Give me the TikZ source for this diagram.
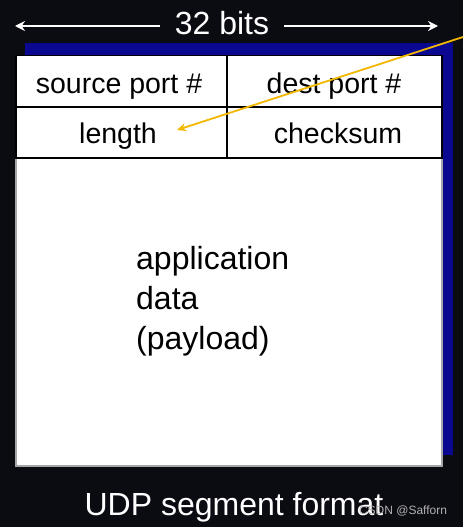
\documentclass[tikz,border=0pt]{standalone}
\usepackage{fontspec}
\setmainfont{Liberation Sans}
\usetikzlibrary{arrows.meta}
\definecolor{bgdark}{HTML}{0B0B12}
\definecolor{shadowblue}{HTML}{0A0890}
\definecolor{arrowyellow}{HTML}{F2B800}
\tikzset{
  cell/.style={draw=black, line width=1.8pt, fill=white, inner sep=0pt, outer sep=0pt,
    minimum width=211pt, minimum height=51pt},
  celltext/.style={anchor=base, inner sep=0pt, font=\fontsize{28.5}{34}\selectfont, text=black},
  whitetxt/.style={text=white, inner sep=0pt, anchor=base, font=\fontsize{32}{38}\selectfont}
}
\begin{document}
\begin{tikzpicture}[x=1pt,y=-1pt]
\useasboundingbox (0,0) rectangle (463,527);
\fill[bgdark] (0,0) rectangle (463,527);
% shadow
\fill[shadowblue] (25,43) rectangle (453,455);
% cells
\node[cell, minimum width=426pt, minimum height=308pt, draw=gray!70, line width=1.2pt] (payload) at (229,312) {};
\node[cell, minimum width=211pt] (srcbox) at (121.5,81) {};
\node[cell, minimum width=215pt] (dstbox) at (334.5,81) {};
\node[cell, minimum width=211pt] (lenbox) at (121.5,132.5) {};
\node[cell, minimum width=215pt] (chkbox) at (334.5,132.5) {};
\draw[black, line width=1.8pt] (payload.north west) -- (payload.north east);
\node[celltext] (src) at (119,93) {source port \#};
\node[celltext] (dst) at (334,93) {dest port \#};
\node[celltext] (len) at (118,143) {length};
\node[celltext] (chk) at (338,143) {checksum};
\node[anchor=west, align=left, inner sep=0pt, font=\fontsize{32}{40}\selectfont, text=black] (appdata) at (136,301) {application\\data\\(payload)};
% 32 bits
\node[whitetxt] (bits) at (222,35) {32 bits};
\coordinate (bl) at (15,26);
\coordinate (br) at (438,26);
\coordinate (blstart) at (160,26);
\coordinate (brstart) at (284,26);
\draw[white, line width=2pt, -{Stealth[length=10pt,width=10pt]}] (blstart) -- (bl);
\draw[white, line width=2pt, -{Stealth[length=10pt,width=10pt]}] (brstart) -- (br);
% yellow arrow
\coordinate (ys) at (463,37);
\coordinate (ytip) at ([xshift=59pt,yshift=13pt]len.base);
\draw[arrowyellow, line width=1.8pt, -{Stealth[length=9pt,width=8pt]}] (ys) -- (ytip);
% caption
\node[whitetxt] (cap) at (234,515) {UDP segment format};
\node[text=gray!60, inner sep=0pt, font=\fontsize{12}{14}\selectfont] (wm) at (403,511) {CSDN @Safforn};
\end{tikzpicture}
\end{document}
